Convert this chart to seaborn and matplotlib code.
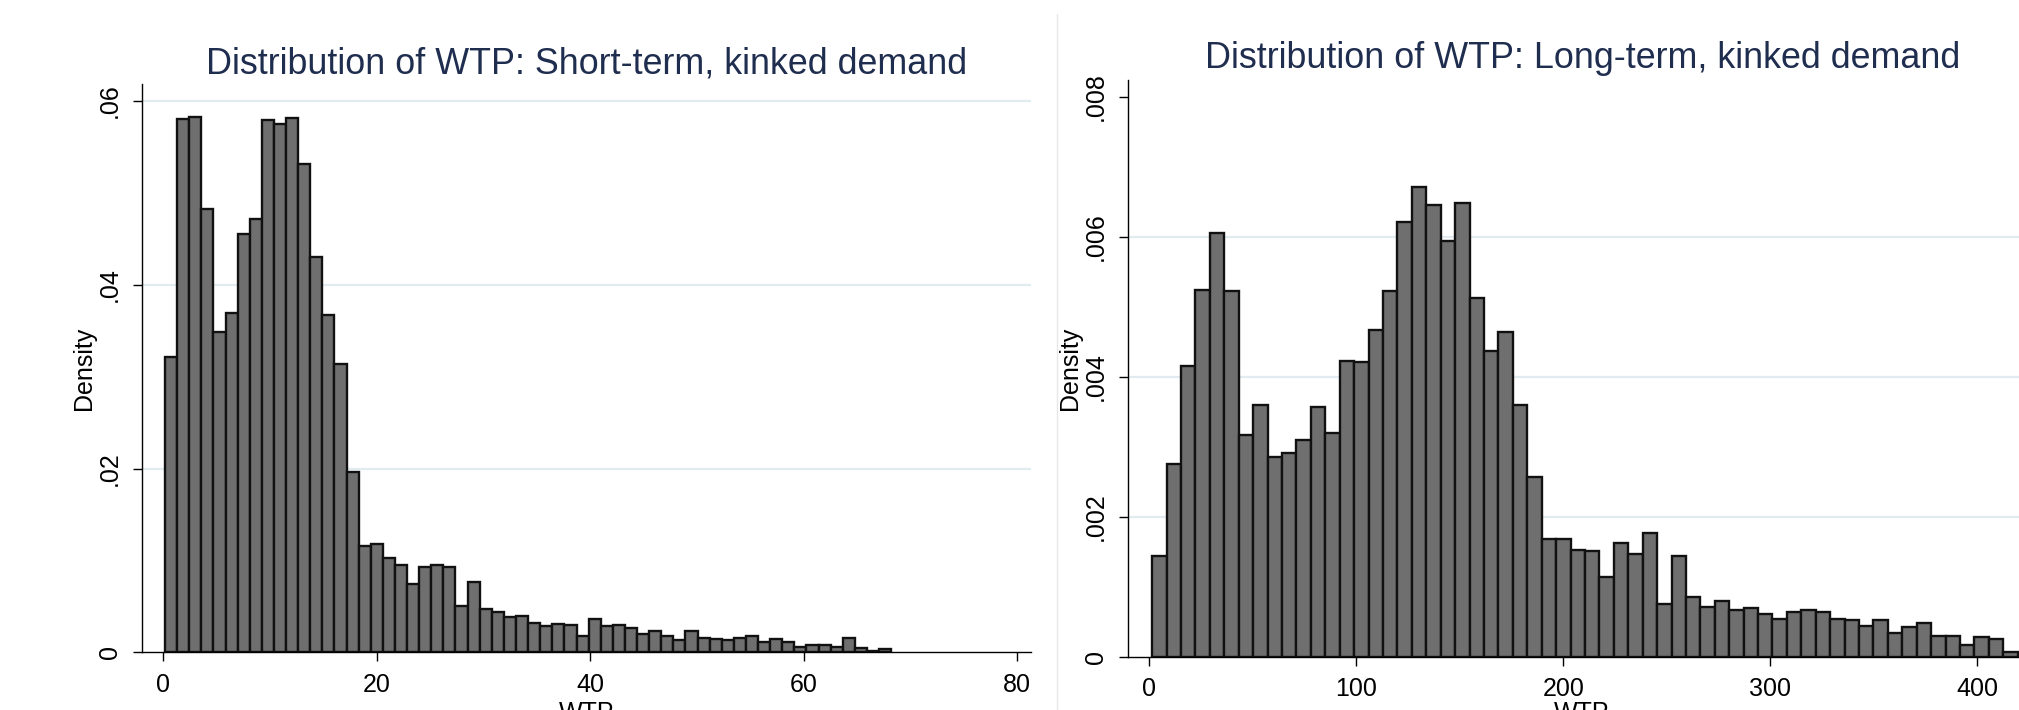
import numpy as np
import pandas as pd
import matplotlib
matplotlib.use("Agg")
import matplotlib.pyplot as plt
import seaborn as sns
from matplotlib.lines import Line2D

# ---------------- data ----------------
short_bin_start = 0.16
short_bin_width = 1.134
short_density = [
    0.0321, 0.0580, 0.0583, 0.0483, 0.0349, 0.0369, 0.0455, 0.0472, 0.0579, 0.0575,
    0.0581, 0.0532, 0.0430, 0.0367, 0.0314, 0.0196, 0.01155, 0.0118, 0.0103, 0.0095,
    0.0074, 0.0093, 0.0095, 0.0093, 0.0050, 0.0077, 0.0047, 0.0044, 0.0038, 0.0040,
    0.0032, 0.00283, 0.00308, 0.00297, 0.00178, 0.00363, 0.00290, 0.00297, 0.00261, 0.00199,
    0.00236, 0.00178, 0.00134, 0.00236, 0.00160, 0.00145, 0.00134, 0.00160, 0.00178, 0.00116,
    0.00145, 0.00116, 0.00054, 0.00080, 0.00080, 0.00054, 0.00152, 0.00047, 0.00015, 0.00036,
]

long_bin_start = 1.45
long_bin_width = 6.967
long_density = [
    0.001444, 0.002759, 0.004147, 0.005241, 0.006048, 0.005219, 0.003171, 0.003599, 0.002849, 0.002911,
    0.003097, 0.003566, 0.003199, 0.004231, 0.004209, 0.004671, 0.005224, 0.006212, 0.006708, 0.006460,
    0.005935, 0.006488, 0.005123, 0.004372, 0.004643, 0.003599, 0.002561, 0.001687, 0.001687, 0.001520,
    0.001504, 0.001136, 0.001618, 0.001461, 0.001761, 0.000754, 0.001442, 0.000850, 0.000716, 0.000792,
    0.000668, 0.000702, 0.000616, 0.000535, 0.000640, 0.000663, 0.000640, 0.000544, 0.000520, 0.000434,
    0.000520, 0.000344, 0.000430, 0.000477, 0.000291, 0.000291, 0.000167, 0.000282, 0.000253, 0.000072,
]

short_title = "Distribution of WTP: Short-term, kinked demand"
long_title = "Distribution of WTP: Long-term, kinked demand"
short_xticks = [0, 20, 40, 60, 80]
short_yticks = [0, 0.02, 0.04, 0.06]
short_yticklabels = ["0", ".02", ".04", ".06"]
short_gridlines = [0.02, 0.04, 0.06]
long_xticks = [0, 100, 200, 300, 400]
long_yticks = [0, 0.002, 0.004, 0.006, 0.008]
long_yticklabels = ["0", ".002", ".004", ".006", ".008"]
long_gridlines = [0.002, 0.004, 0.006]
x_label = "WTP"
y_label = "Density"

# ---------------- style ----------------
sns.set_style("white")
plt.rcParams['font.family'] = ['Liberation Sans', 'DejaVu Sans']

BAR_FILL = "#6f6f6f"
BAR_EDGE = "#111111"
GRID = "#e2ebef"
TITLE_COLOR = "#1f2d4f"
TICK_FS = 18
TITLE_FS = 25.8

fig = plt.figure(figsize=(20.19, 7.10), dpi=100)
fig.patch.set_facecolor("white")
ax1 = fig.add_axes([0.07048, 0.08127, 0.44017, 0.79972])
ax2 = fig.add_axes([0.55884, 0.07507, 0.44957, 0.81225])


def draw_panel(ax, start, width, dens, xlim, ylim, xticks, yticks, yticklabels,
               gridvals, title, title_y, ylabel_x, xlabel_y):
    n = len(dens)
    edges = start + width * np.arange(n + 1)
    centers = (edges[:-1] + edges[1:]) / 2
    df = pd.DataFrame({"WTP": centers, "Density": dens})
    sns.histplot(data=df, x="WTP", weights="Density", bins=list(edges), stat="count",
                 color=BAR_FILL, edgecolor=BAR_EDGE, linewidth=1.7, alpha=1,
                 ax=ax, zorder=2)
    for g in gridvals:
        ax.axhline(g, color=GRID, lw=1.6, zorder=0.5)
    ax.set_xlim(*xlim)
    ax.set_ylim(*ylim)
    for s in ["top", "right"]:
        ax.spines[s].set_visible(False)
    for s in ["left", "bottom"]:
        ax.spines[s].set_color("black")
        ax.spines[s].set_linewidth(1.0)
    ax.set_xticks(xticks, labels=[str(t) for t in xticks])
    ax.set_yticks(yticks, labels=yticklabels, rotation=90, va="center")
    ax.tick_params(axis="both", direction="out", length=6.5, width=1.0,
                   colors="black", labelsize=TICK_FS, pad=8.3, bottom=True, left=True)
    ax.set_title(title, y=title_y, pad=0, fontsize=TITLE_FS, color=TITLE_COLOR)
    ax.set_ylabel(y_label, fontsize=TICK_FS, color="black")
    ax.yaxis.set_label_coords(ylabel_x, 0.5)
    ax.yaxis.label.set_va("center")
    ax.set_xlabel(x_label, fontsize=TICK_FS, color="black")
    ax.xaxis.set_label_coords(0.5, xlabel_y)
    ax.xaxis.label.set_va("top")
    ax.grid(False)


draw_panel(ax1, short_bin_start, short_bin_width, short_density,
           (-1.97, 81.3), (0, 0.0618), short_xticks, short_yticks, short_yticklabels,
           short_gridlines, short_title, 1.0197, -0.0656, -0.0858)
draw_panel(ax2, long_bin_start, long_bin_width, long_density,
           (-10.1, 428.3), (0, 0.00824), long_xticks, long_yticks, long_yticklabels,
           long_gridlines, long_title, 1.0203, -0.0638, -0.0768)

# thin separator between the combined graphs
fig.add_artist(Line2D([1057.3 / 2019] * 2, [0, 1 - 14 / 710], transform=fig.transFigure,
                      color="#e8e8e8", lw=1.0))

fig.savefig("out.png", dpi=100)
